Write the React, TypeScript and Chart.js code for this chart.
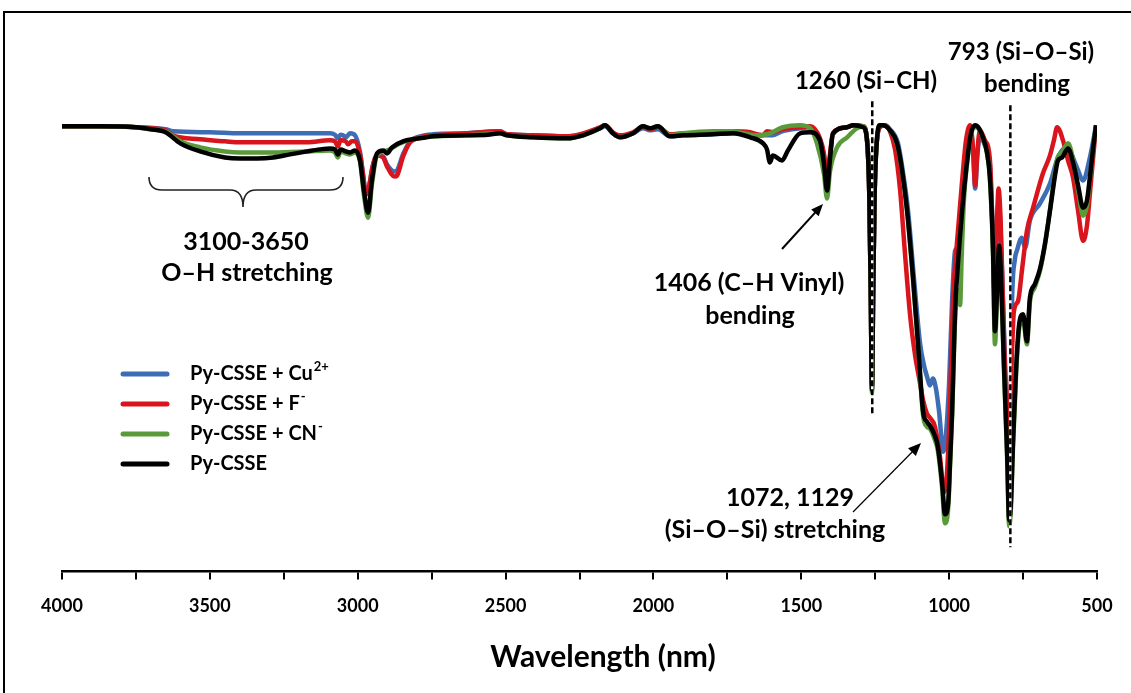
import React, { useEffect, useRef } from "react";
import { Chart, registerables } from "chart.js";

Chart.register(...registerables);

// Wavenumber (cm-1) / transmittance pairs
const cuSeries: [number, number][] = [
  [4000, 88.6], [3870, 88.6], [3750, 88.4], [3650, 88.0], [3625, 87.6], [3500, 87.4], [3398, 87.2], [3200, 87.2],
  [3094, 87.2], [3077, 86.9], [3067, 86.2], [3058, 86.9], [3050, 86.8], [3040, 86.4], [3026, 87.2], [3009, 86.8],
  [2992, 83.4], [2982, 79.0], [2972, 75.0], [2962, 76.5], [2950, 80.5], [2935, 82.8], [2914, 82.6], [2901, 81.0],
  [2875, 79.6], [2867, 79.8], [2847, 83.0], [2823, 85.6], [2789, 86.6], [2745, 87.0], [2630, 87.2], [2519, 87.6],
  [2495, 87.0], [2407, 86.8], [2292, 86.6], [2238, 87.0], [2181, 88.2], [2164, 88.6], [2137, 87.2], [2113, 86.6],
  [2069, 87.2], [2035, 88.2], [2012, 87.8], [1985, 88.0], [1944, 86.6], [1900, 86.8], [1800, 87.0], [1731, 87.2],
  [1673, 87.2], [1650, 86.8], [1616, 86.8], [1596, 86.8], [1565, 87.6], [1504, 88.2], [1470, 88.4], [1437, 86.0],
  [1423, 82.5], [1413, 77.5], [1403, 82.5], [1393, 87.0], [1345, 88.4], [1325, 88.8], [1291, 88.6], [1278, 86.0],
  [1270, 75], [1265, 55], [1261, 37], [1257, 55], [1252, 75], [1244, 86.0], [1230, 88.6], [1217, 88.8],
  [1200, 88.0], [1173, 85.2], [1155, 79.0], [1139, 71.8], [1119, 58.4], [1098, 45.2], [1085, 41.0], [1075, 38.8],
  [1065, 37.0], [1055, 38.4], [1045, 36.5], [1034, 31.8], [1020, 23.8], [1010, 27.8], [1000, 37.8], [990, 53.8],
  [980, 63.8], [973, 64.4], [963, 70.8], [946, 81.8], [929, 88.2], [919, 83.5], [912, 76.2], [905, 82.5],
  [896, 86.8], [879, 84.8], [862, 80.8], [852, 66], [847, 56], [840, 66], [833, 73.8], [826, 68], [818, 53.8],
  [804, 29.8], [797, 17.8], [791, 35], [788, 51.8], [778, 62], [771, 63.8], [754, 66.4], [743, 64.4], [727, 69.8],
  [693, 73.2], [659, 77.2], [632, 82.4], [601, 84.4], [568, 80.4], [547, 77.8], [524, 82.4], [503, 88.8],
];

const fSeries: [number, number][] = [
  [4000, 88.6], [3870, 88.6], [3750, 88.4], [3700, 88.2], [3650, 87.8], [3625, 86.8], [3533, 86.0], [3449, 85.6],
  [3398, 85.4], [3286, 85.4], [3171, 85.4], [3094, 85.8], [3077, 85.6], [3067, 84.6], [3058, 85.8], [3040, 85.6],
  [3033, 85.0], [3020, 85.6], [3009, 85.6], [2992, 83.0], [2982, 79.0], [2972, 75.0], [2962, 76.5], [2950, 80.5],
  [2935, 82.8], [2914, 82.4], [2901, 80.6], [2875, 78.6], [2867, 78.8], [2847, 82.5], [2823, 85.4], [2789, 86.4],
  [2745, 86.8], [2630, 87.2], [2519, 87.6], [2495, 87.0], [2407, 86.8], [2292, 86.6], [2238, 87.2], [2181, 88.4],
  [2164, 88.8], [2137, 87.4], [2113, 86.8], [2069, 87.4], [2035, 88.4], [2012, 88.0], [1985, 88.4], [1944, 87.0],
  [1900, 87.2], [1800, 87.4], [1731, 87.6], [1673, 87.4], [1650, 87.0], [1630, 86.8], [1616, 87.6], [1596, 87.4],
  [1565, 88.0], [1504, 88.4], [1470, 88.6], [1437, 86.2], [1423, 83.0], [1413, 78.0], [1403, 83.0], [1393, 87.2],
  [1345, 88.4], [1325, 88.8], [1291, 88.6], [1278, 86.0], [1270, 75], [1265, 55], [1261, 37], [1257, 55],
  [1252, 75], [1244, 86.0], [1230, 88.6], [1217, 88.8], [1200, 87.6], [1183, 84.0], [1166, 76.0], [1149, 63.0],
  [1132, 51.0], [1115, 43.0], [1100, 38.0], [1088, 34.0], [1075, 31.4], [1065, 30.6], [1048, 28.8], [1031, 22.8],
  [1017, 15.8], [1007, 19.8], [997, 33.8], [987, 53.8], [973, 65.8], [956, 77.8], [943, 85.8], [929, 88.8],
  [919, 84], [912, 76.8], [905, 83], [896, 87.8], [879, 85.8], [862, 81.8], [852, 66], [847, 56], [840, 66],
  [833, 76.2], [826, 70], [818, 53.8], [808, 33.8], [801, 24.8], [791, 37.8], [781, 51.8], [767, 53.8],
  [754, 59.8], [737, 67.8], [716, 72.4], [683, 79.2], [659, 82.8], [645, 86], [635, 88.4], [615, 85.8],
  [598, 81.8], [581, 78.4], [564, 71.8], [547, 65.8], [534, 68.8], [524, 75.2], [514, 81.8], [503, 88.8],
];

const cnSeries: [number, number][] = [
  [4000, 88.6], [3870, 88.6], [3750, 88.4], [3700, 88.0], [3650, 87.6], [3600, 85.6], [3533, 84.4], [3449, 83.6],
  [3398, 83.4], [3286, 83.4], [3171, 83.6], [3094, 83.8], [3077, 83.4], [3067, 82.4], [3058, 83.6], [3040, 83.2],
  [3026, 83.0], [3009, 83.4], [2992, 81.5], [2979, 75.0], [2965, 70.4], [2952, 77.0], [2935, 82.8], [2901, 83.8],
  [2857, 85.2], [2800, 86.2], [2745, 86.6], [2630, 86.8], [2519, 87.2], [2495, 86.8], [2407, 86.4], [2292, 86.2],
  [2238, 86.8], [2181, 88.2], [2164, 88.8], [2137, 87.2], [2113, 86.4], [2069, 87.2], [2035, 88.6], [2012, 88.2],
  [1985, 88.6], [1944, 86.8], [1900, 87.2], [1800, 87.6], [1731, 87.6], [1697, 87.2], [1650, 86.8], [1616, 87.0],
  [1606, 87.2], [1562, 88.4], [1504, 88.8], [1470, 88.2], [1447, 85.2], [1423, 79.0], [1413, 74.2], [1403, 79.6],
  [1379, 84.4], [1345, 86.4], [1312, 88.2], [1291, 88.6], [1278, 86.0], [1270, 75], [1265, 55], [1261, 35.6],
  [1257, 55], [1252, 75], [1244, 86.0], [1234, 88.8], [1224, 88.8], [1200, 87.8], [1176, 85.0], [1159, 79.6],
  [1142, 71.6], [1122, 58.0], [1105, 44.8], [1088, 31.0], [1075, 28.8], [1065, 28.4], [1051, 26.6], [1038, 24.0],
  [1024, 16.8], [1014, 9.6], [1003, 12.8], [997, 21.0], [990, 31.0], [980, 50.0], [970, 56.0], [963, 53.0],
  [958, 62.0], [950, 74.0], [939, 81.4], [926, 87.0], [912, 88.4], [899, 88.0], [886, 86.2], [872, 83.2],
  [862, 78.0], [852, 64.0], [845, 45.2], [838, 55.0], [831, 64.0], [825, 59.0], [815, 41.0], [804, 22.8],
  [797, 9.0], [791, 12.8], [784, 24.8], [774, 38.8], [764, 48.0], [750, 50.2], [737, 45.2], [727, 53.6],
  [710, 56.6], [693, 59.8], [676, 65.0], [659, 72.0], [642, 79.5], [632, 82.6], [618, 83.4], [598, 85.2],
  [581, 82.0], [564, 76.0], [547, 70.8], [534, 72.8], [524, 78.0], [514, 83.8], [503, 88.8],
];

const baseSeries: [number, number][] = [
  [4000, 88.6], [3870, 88.6], [3750, 88.4], [3700, 88.0], [3650, 87.4], [3600, 85.2], [3533, 83.6], [3449, 82.4],
  [3398, 82.2], [3340, 82.2], [3286, 82.4], [3229, 83.0], [3171, 83.6], [3128, 84.0], [3094, 84.2], [3077, 84.0],
  [3067, 83.0], [3058, 84.0], [3040, 83.6], [3026, 83.4], [3009, 83.8], [2992, 81.8], [2979, 75.8], [2965, 71.4],
  [2952, 77.8], [2935, 83.2], [2914, 83.8], [2901, 83.2], [2884, 84.4], [2847, 85.6], [2789, 86.2], [2745, 86.6],
  [2630, 86.8], [2560, 86.9], [2519, 87.2], [2495, 86.8], [2407, 86.4], [2292, 86.2], [2238, 86.8], [2181, 88.2],
  [2164, 88.8], [2137, 87.2], [2113, 86.4], [2069, 87.2], [2035, 88.6], [2012, 88.2], [1985, 88.6], [1944, 86.6],
  [1900, 86.8], [1800, 87.0], [1731, 87.2], [1673, 86.4], [1629, 85.2], [1616, 84.0], [1606, 81.4], [1596, 82.8],
  [1565, 81.8], [1545, 83.8], [1504, 87.2], [1470, 87.4], [1437, 85.8], [1423, 81.0], [1413, 75.8], [1403, 82.0],
  [1393, 87.2], [1345, 88.4], [1325, 88.8], [1291, 88.4], [1278, 86.0], [1270, 75], [1265, 55], [1261, 36.2],
  [1257, 55], [1252, 75], [1244, 86.0], [1234, 88.8], [1224, 88.8], [1200, 87.8], [1176, 85.2], [1159, 79.8],
  [1142, 71.8], [1122, 58.4], [1105, 45.2], [1088, 31.8], [1075, 29.8], [1065, 29.0], [1051, 27.4], [1038, 24.8],
  [1024, 17.8], [1014, 11.4], [1003, 13.8], [997, 21.8], [990, 31.8], [980, 51.8], [970, 61.4], [956, 71.8],
  [939, 81.8], [926, 87.2], [912, 88.8], [899, 88.2], [886, 86.4], [872, 83.4], [862, 78.4], [852, 65.2],
  [845, 47.8], [838, 55.8], [831, 64.8], [825, 59.8], [815, 41.8], [804, 23.8], [797, 10.2], [791, 13.8],
  [784, 25.8], [774, 39.8], [764, 48.8], [750, 51.2], [737, 45.8], [727, 54.4], [710, 57.2], [693, 60.2],
  [676, 65.2], [659, 71.8], [642, 78.8], [632, 81.8], [618, 82.4], [598, 84.2], [581, 81.4], [564, 76.8],
  [547, 72.4], [534, 73.8], [524, 78.4], [514, 83.8], [503, 88.8],
];

const seriesLabels = ["Py-CSSE + Cu\u00B2\u207A", "Py-CSSE + F\u207B", "Py-CSSE + CN\u207B", "Py-CSSE"];
const legendMain = ["Py-CSSE + Cu", "Py-CSSE + F", "Py-CSSE + CN", "Py-CSSE"];
const legendSup = ["2+", "-", "-", ""];
const seriesColors = ["#3D6DB5", "#D9141C", "#5A9A3A", "#000000"];
const xTickValues = [4000, 3500, 3000, 2500, 2000, 1500, 1000, 500];
const xAxisTitle = "Wavelength (nm)";
const markedBands = [1260, 793];

const FONT = "Lato, 'Open Sans', sans-serif";

function drawArrow(ctx: CanvasRenderingContext2D, x1: number, y1: number, x2: number, y2: number, w: number, head: number) {
  const ang = Math.atan2(y2 - y1, x2 - x1);
  ctx.save();
  ctx.strokeStyle = "#000";
  ctx.fillStyle = "#000";
  ctx.lineWidth = w;
  ctx.beginPath();
  ctx.moveTo(x1, y1);
  ctx.lineTo(x2 - Math.cos(ang) * head * 0.8, y2 - Math.sin(ang) * head * 0.8);
  ctx.stroke();
  ctx.beginPath();
  ctx.moveTo(x2, y2);
  ctx.lineTo(x2 - head * Math.cos(ang - 0.4), y2 - head * Math.sin(ang - 0.4));
  ctx.lineTo(x2 - head * Math.cos(ang + 0.4), y2 - head * Math.sin(ang + 0.4));
  ctx.closePath();
  ctx.fill();
  ctx.restore();
}

const annotPlugin = {
  id: "annot",
  beforeDraw(chart: any) {
    const ctx = chart.ctx as CanvasRenderingContext2D;
    ctx.save();
    ctx.fillStyle = "#fff";
    ctx.fillRect(0, 0, chart.width, chart.height);
    ctx.strokeStyle = "#000";
    ctx.lineWidth = 2;
    ctx.strokeRect(4, 12, 1400, 1000);
    ctx.restore();
  },
  afterDraw(chart: any) {
    const ctx = chart.ctx as CanvasRenderingContext2D;
    ctx.save();
    ctx.fillStyle = "#000";
    ctx.textAlign = "center";
    ctx.textBaseline = "middle";
    ctx.font = `bold 30px ${FONT}`;
    ctx.fillText(xAxisTitle, 603, 657);
    ctx.restore();
  },
  afterDatasetsDraw(chart: any) {
    const ctx = chart.ctx as CanvasRenderingContext2D;
    const xs = chart.scales.x;
    const ys = chart.scales.y;
    ctx.save();
    // dashed band markers
    const ends = [[93.6, 31.4], [92.8, 4.8]];
    markedBands.forEach((b, i) => {
      const px = xs.getPixelForValue(b);
      const y1 = ys.getPixelForValue(ends[i][0]);
      const y2 = ys.getPixelForValue(ends[i][1]);
      ctx.setLineDash([]);
      ctx.strokeStyle = "#fff";
      ctx.lineWidth = 2.5;
      ctx.beginPath();
      ctx.moveTo(px, y1);
      ctx.lineTo(px, y2);
      ctx.stroke();
      ctx.setLineDash([6, 3]);
      ctx.strokeStyle = "#000";
      ctx.beginPath();
      ctx.moveTo(px, y1);
      ctx.lineTo(px, y2);
      ctx.stroke();
    });
    ctx.setLineDash([]);

    // brace
    ctx.strokeStyle = "#222";
    ctx.lineWidth = 1.6;
    ctx.beginPath();
    ctx.moveTo(149, 177);
    ctx.quadraticCurveTo(149, 190, 162, 190);
    ctx.lineTo(230, 190);
    ctx.quadraticCurveTo(243, 190, 243, 207);
    ctx.moveTo(343, 177);
    ctx.quadraticCurveTo(343, 190, 330, 190);
    ctx.lineTo(256, 190);
    ctx.quadraticCurveTo(243, 190, 243, 207);
    ctx.stroke();

    // arrows
    drawArrow(ctx, 782, 249, 823, 204, 2, 13);
    drawArrow(ctx, 853, 512, 921, 443, 1.2, 14);

    // annotation texts
    ctx.fillStyle = "#000";
    ctx.textAlign = "center";
    ctx.textBaseline = "middle";
    const texts: [string, number, number, number][] = [
      ["793 (Si\u2013O\u2013Si)", 1021, 52, 24],
      ["bending", 1027, 84, 24],
      ["1260 (Si\u2013CH)", 866, 81, 24],
      ["3100-3650", 246, 242, 25],
      ["O\u2013H stretching", 247, 273, 25],
      ["1406 (C\u2013H Vinyl)", 749, 283, 25],
      ["bending", 750, 316, 25],
      ["1072, 1129", 790, 498, 25],
      ["(Si\u2013O\u2013Si) stretching", 775, 530, 25],
    ];
    texts.forEach(([t, x, y, s]) => {
      ctx.font = `bold ${s}px ${FONT}`;
      ctx.fillText(t, x, y);
    });

    // legend
    ctx.textAlign = "left";
    legendMain.forEach((lab, i) => {
      const y = 374 + i * 30;
      ctx.strokeStyle = seriesColors[i];
      ctx.lineWidth = 5;
      ctx.lineCap = "round";
      ctx.beginPath();
      ctx.moveTo(123, y);
      ctx.lineTo(167, y);
      ctx.stroke();
      ctx.font = `bold 20px ${FONT}`;
      ctx.fillStyle = "#000";
      ctx.fillText(lab, 190, y);
      const w = ctx.measureText(lab).width;
      if (legendSup[i]) {
        ctx.font = `bold 13px ${FONT}`;
        ctx.fillText(legendSup[i], 190 + w + 1, y - 7);
      }
    });
    ctx.restore();
  },
};

export default function App() {
  const ref = useRef<HTMLCanvasElement | null>(null);
  useEffect(() => {
    if (!ref.current) return;
    const all = [cuSeries, fSeries, cnSeries, baseSeries];
    const chart = new Chart(ref.current, {
      type: "line",
      data: {
        datasets: all.map((s, i) => ({
          label: seriesLabels[i],
          data: s.map(([x, y]) => ({ x, y })),
          borderColor: seriesColors[i],
          backgroundColor: seriesColors[i],
          borderWidth: 4.5,
          pointRadius: 0,
          order: all.length - 1 - i,
          cubicInterpolationMode: "monotone" as const,
          fill: false,
        })),
      },
      options: {
        animation: false,
        responsive: false,
        maintainAspectRatio: false,
        layout: { padding: { left: 62, right: 34, top: 69, bottom: 60 } },
        plugins: { legend: { display: false }, tooltip: { enabled: false } },
        scales: {
          x: {
            type: "linear",
            reverse: true,
            min: 500,
            max: 4000,
            afterBuildTicks: (scale: any) => {
              const t: any[] = [];
              for (let v = 4000; v >= 500; v -= 250) t.push({ value: v });
              scale.ticks = t;
            },
            ticks: {
              autoSkip: false,
              maxRotation: 0,
              color: "#000",
              padding: 16,
              font: { family: FONT, size: 18, weight: "bold" },
              callback: (v: any) => (xTickValues.includes(Number(v)) ? String(v) : ""),
            },
            grid: { display: true, drawOnChartArea: false, drawTicks: true, tickLength: 8, color: "#000", lineWidth: 2 },
            border: { display: true, color: "#000", width: 2.5 },
            title: { display: false, text: xAxisTitle },
          },
          y: { display: false, min: 0, max: 100 },
        },
      },
      plugins: [annotPlugin],
    } as any);
    return () => chart.destroy();
  }, []);
  return (
    <div style={{ position: "absolute", left: 0, top: 0, width: 1131, height: 693, overflow: "hidden", background: "#fff" }}>
      <canvas ref={ref} width={1131} height={693} style={{ display: "block", width: 1131, height: 693 }} />
    </div>
  );
}
